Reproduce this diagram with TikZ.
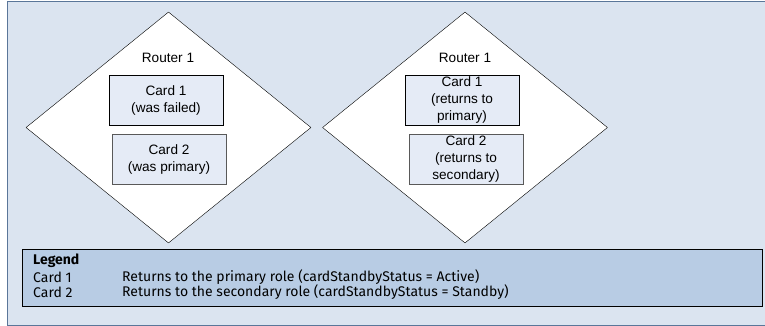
\documentclass[tikz,border=0pt]{standalone}
\usepackage{fontspec}
\setmainfont{Liberation Sans}
\newfontfamily\legendfont{Fira Sans}
\usepackage{xcolor}
\usetikzlibrary{shapes.geometric}
\definecolor{panelblue}{HTML}{DBE4F0}
\definecolor{panelline}{HTML}{5A7699}
\definecolor{cardblue}{HTML}{E5EBF6}
\definecolor{legendblue}{HTML}{B8CCE4}

\begin{document}
\begin{tikzpicture}[x=1pt, y=-1pt, font=\fontsize{13.6}{17}\selectfont,
    router/.style={draw, fill=white, shape=diamond, inner sep=0pt,
        minimum width=285pt, minimum height=231pt},
    card/.style={draw, fill=cardblue, minimum width=114pt, minimum height=50pt,
        align=center, inner sep=0pt},
    legendtext/.style={anchor=west, inner sep=0pt, font=\legendfont\fontsize{14}{15}\selectfont}]
        \useasboundingbox (0,0) rectangle (765,326);
        % background panel
        \draw[panelline, fill=panelblue] (7,1) rectangle (768,325);
        % router diamonds
        \node[router] (ra) at (168.5,127.5) {};
        \node[router] (rb) at (465,127.5) {};
        \node (ta) at (168,58) {Router 1};
        \node (tb) at (465,58) {Router 1};
        % cards
        \node[card] (ca1) at (166,100) {Card 1\\(was failed)};
        \node[card, draw=black!65] (ca2) at (169,159) {Card 2\\(was primary)};
        \node[card] (cb1) at (462,100) {Card 1\\(returns to\\primary)};
        \node[card, draw=black!65] (cb2) at (466,159) {Card 2\\(returns to\\secondary)};
        % legend
        \draw[fill=legendblue] (22,249) rectangle (762,306);
        \node[legendtext, font=\legendfont\bfseries\fontsize{14}{15}\selectfont] (lg) at (33,261) {Legend};
        \node[legendtext] (l1) at (33,277) {Card 1};
        \node[legendtext] (l2) at (33,292) {Card 2};
        \node[legendtext] (d1) at (122,277) {Returns to the primary role (cardStandbyStatus = Active)};
        \node[legendtext] (d2) at (122,292) {Returns to the secondary role (cardStandbyStatus = Standby)};
    \end{tikzpicture}
\end{document}
